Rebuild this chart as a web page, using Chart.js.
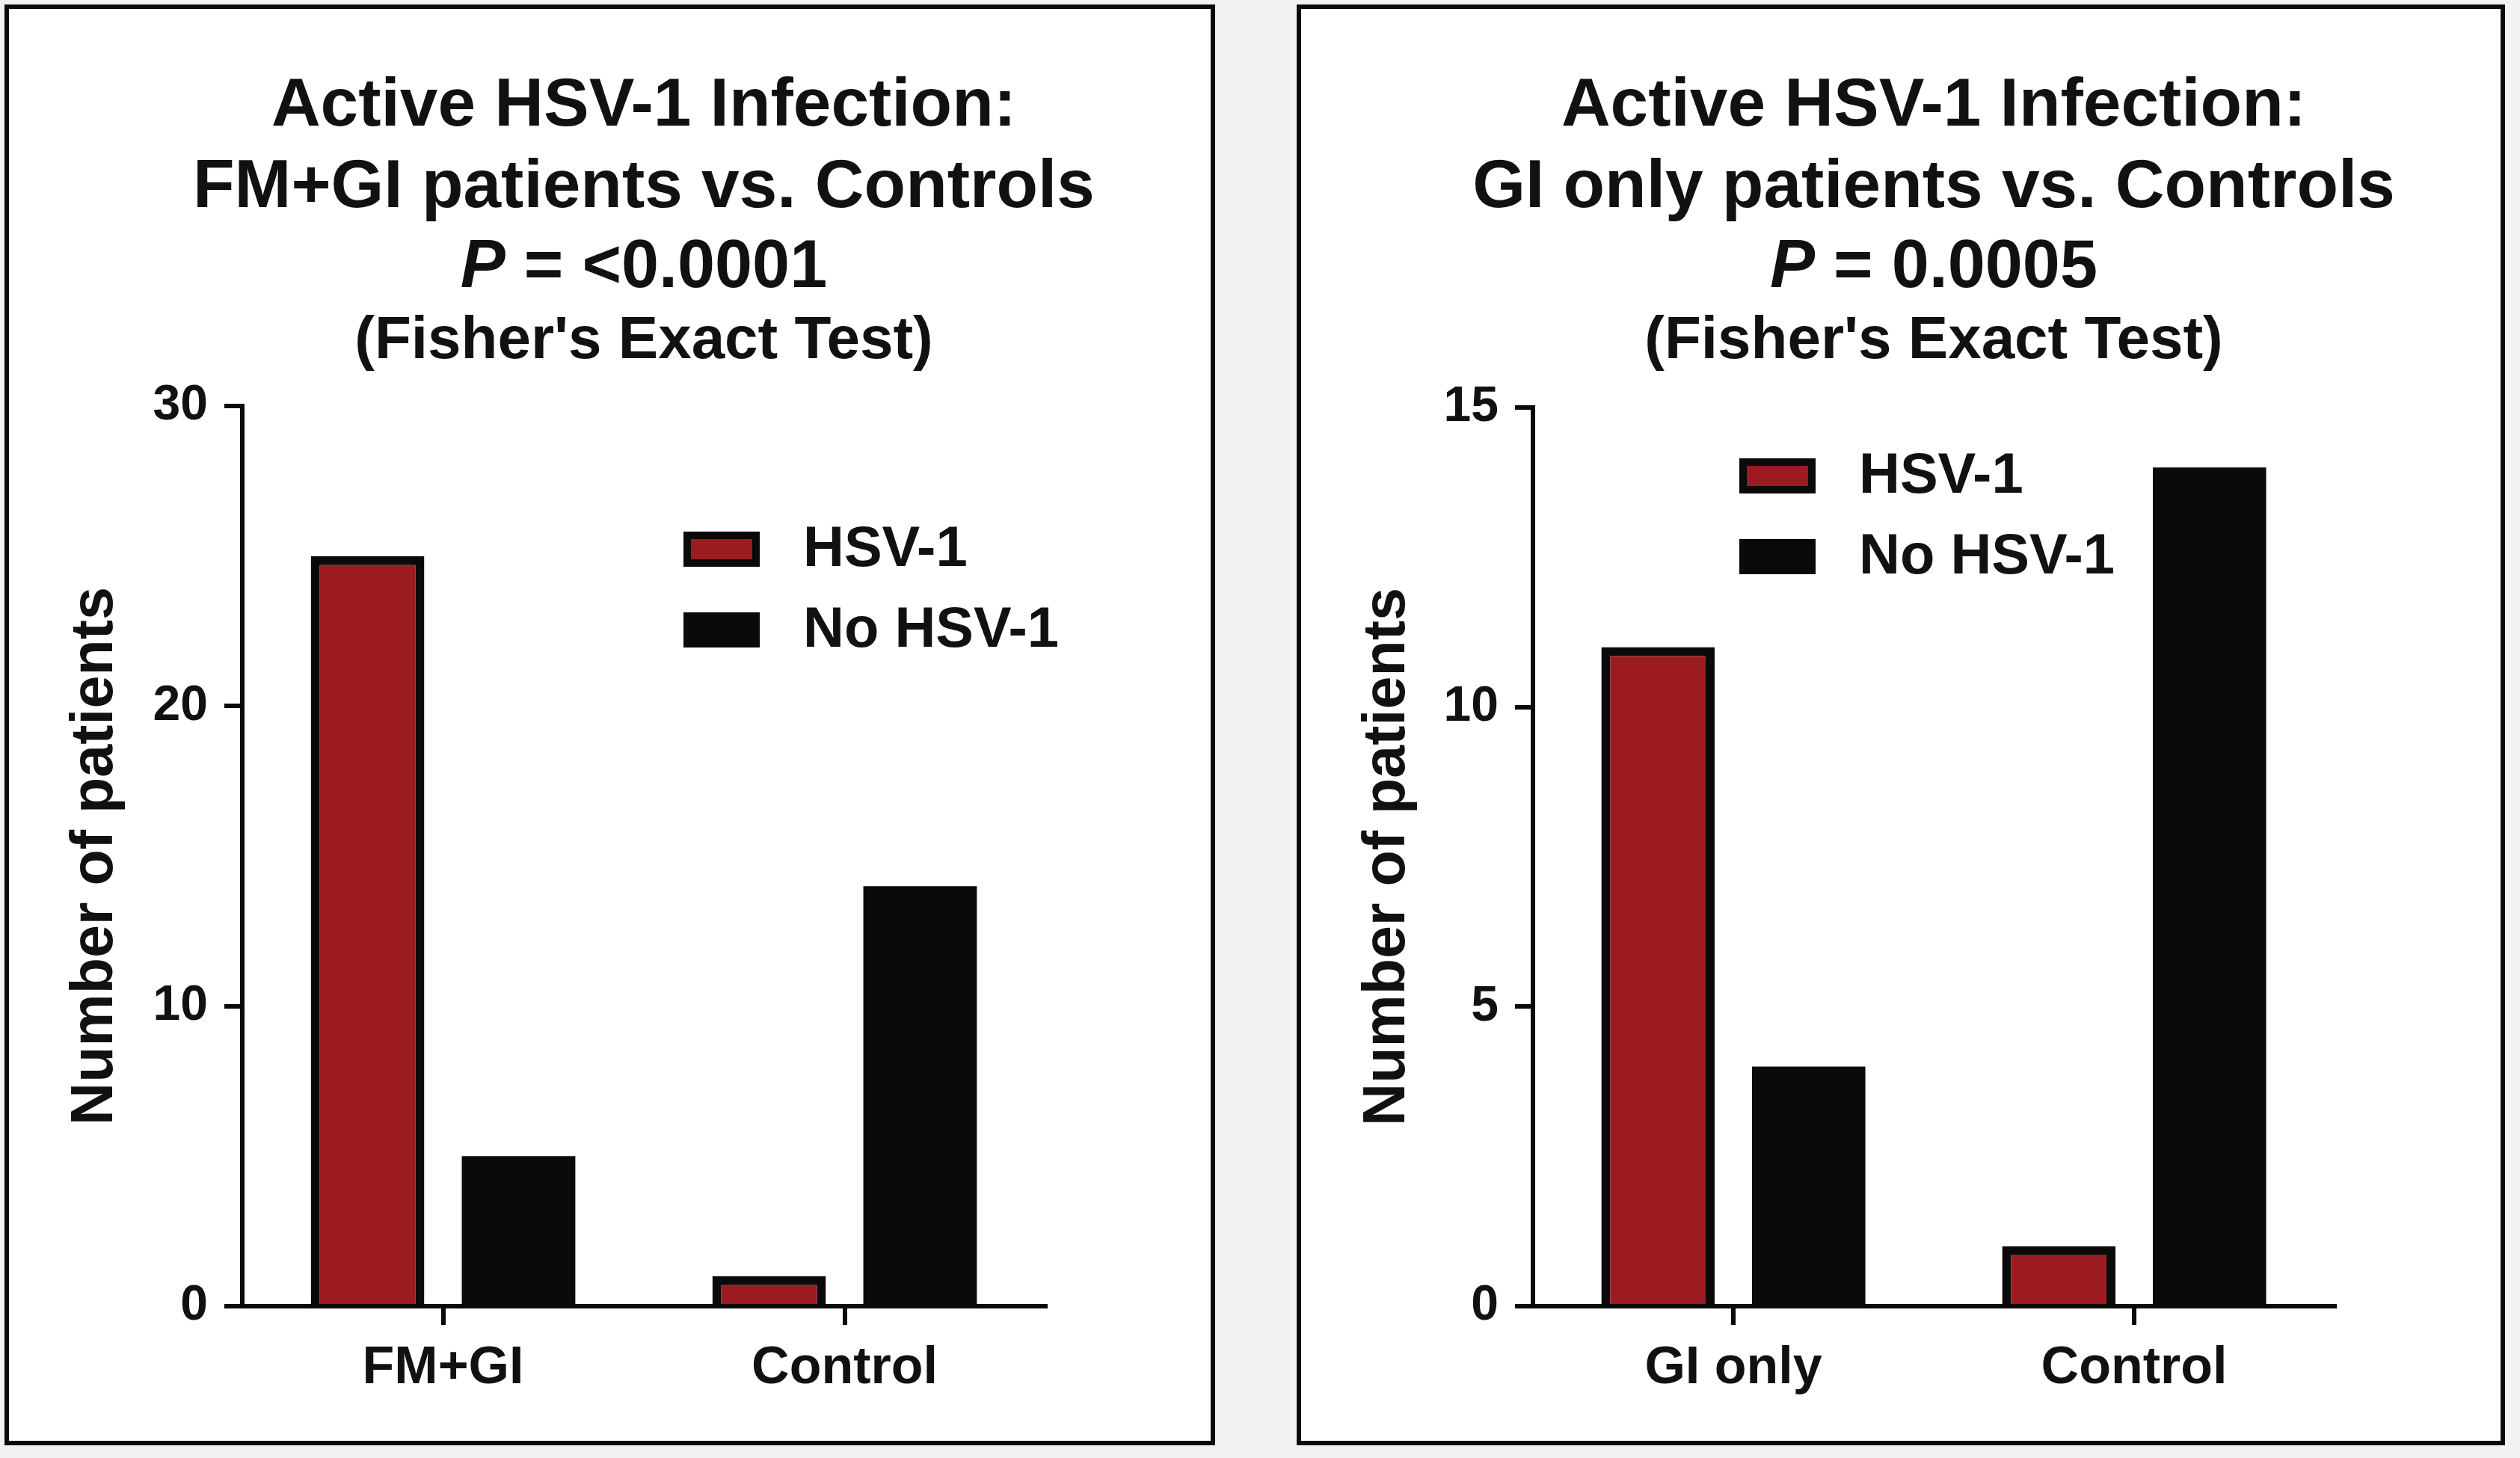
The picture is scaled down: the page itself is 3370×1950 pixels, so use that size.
<!DOCTYPE html>
<html>
<head>
<meta charset="utf-8">
<script src="https://cdn.jsdelivr.net/npm/chart.js@4.4.0/dist/chart.umd.min.js"></script>
<style>
    body {
        margin: 0;
        width: 3370px;
        height: 1950px;
        background: #f1f2f4;
        position: relative;
        overflow: hidden;
        font-family: "Liberation Sans", Arial, sans-serif;
        color: #111;
    }
    .panel {
        position: absolute;
        top: 6px;
        height: 1915px;
        background: #fff;
        border: 6px solid #0a0a0a;
    }
    .title-line {
        position: absolute;
        width: 1600px;
        text-align: center;
        font-weight: bold;
        white-space: nowrap;
    }
    canvas {
        position: absolute;
    }
</style>
</head>
<body>
<div class="panel" style="left:6px; width:1607px;"></div>
<div class="panel" style="left:1734px; width:1604px;"></div>

<!-- Left titles (centred over the plot area, centre x = 861) -->
<div class="title-line" style="left:61px; top:91px; font-size:91px; line-height:91px;">Active HSV-1 Infection:</div>
<div class="title-line" style="left:61px; top:200px; font-size:91px; line-height:91px;">FM+GI patients vs. Controls</div>
<div class="title-line" style="left:61px; top:308px; font-size:90px; line-height:90px;"><i>P</i> = &lt;0.0001</div>
<div class="title-line" style="left:61px; top:412px; font-size:80px; line-height:80px;">(Fisher's Exact Test)</div>

<!-- Right titles (centre x = 2586) -->
<div class="title-line" style="left:1786px; top:91px; font-size:91px; line-height:91px;">Active HSV-1 Infection:</div>
<div class="title-line" style="left:1786px; top:200px; font-size:91px; line-height:91px;">GI only patients vs. Controls</div>
<div class="title-line" style="left:1786px; top:308px; font-size:90px; line-height:90px;"><i>P</i> = 0.0005</div>
<div class="title-line" style="left:1786px; top:412px; font-size:80px; line-height:80px;">(Fisher's Exact Test)</div>

<canvas id="leftChart" width="1580" height="1440" style="left:20px; top:480px;"></canvas>
<canvas id="rightChart" width="1590" height="1440" style="left:1745px; top:480px;"></canvas>

<script>
// Data
const seriesLabels = ['HSV-1', 'No HSV-1'];

const leftCategories = ['FM+GI', 'Control'];
const leftHsv = [25, 1];
const leftNoHsv = [5, 14];
const leftYMax = 30;
const leftYStep = 10;

const rightCategories = ['GI only', 'Control'];
const rightHsv = [11, 1];
const rightNoHsv = [4, 14];
const rightYMax = 15;
const rightYStep = 5;

const FONT = '"Liberation Sans", Arial, sans-serif';
const INK = '#0a0a0a';
const RED = '#9c1b20';

// Simple boxed legend drawn inside the plot area
const boxLegend = {
    id: 'boxLegend',
    afterDraw(chart, args, opts) {
        const ctx = chart.ctx;
        const area = chart.chartArea;
        ctx.save();
        ctx.font = 'bold ' + opts.fontSize + 'px ' + FONT;
        ctx.textBaseline = 'middle';
        ctx.textAlign = 'left';
        chart.data.datasets.forEach((ds, i) => {
            const x = area.left + opts.x;
            const y = area.top + opts.y + i * opts.rowHeight;
            const b = opts.border;
            ctx.fillStyle = INK;
            ctx.fillRect(x, y, opts.boxWidth, opts.boxHeight);
            ctx.fillStyle = ds.backgroundColor;
            ctx.fillRect(x + b, y + b, opts.boxWidth - 2 * b, opts.boxHeight - 2 * b);
            ctx.fillStyle = '#111';
            ctx.fillText(ds.label, x + opts.boxWidth + opts.gap, y + opts.boxHeight / 2 + 2);
        });
        ctx.restore();
    }
};

function makeChart(id, categories, hsv, noHsv, yMax, yStep, cfg) {
    const ctx = document.getElementById(id).getContext('2d');
    return new Chart(ctx, {
        type: 'bar',
        data: {
            labels: categories,
            datasets: [{
                label: seriesLabels[0],
                data: hsv,
                backgroundColor: RED,
                borderColor: INK,
                borderWidth: 12
            }, {
                label: seriesLabels[1],
                data: noHsv,
                backgroundColor: INK,
                borderWidth: 0
            }]
        },
        options: {
            responsive: false,
            animation: false,
            layout: {
                padding: { left: 0, top: cfg.padTop, right: cfg.padRight, bottom: 23 }
            },
            datasets: {
                bar: {
                    barPercentage: 0.752,
                    categoryPercentage: 0.752
                }
            },
            plugins: {
                legend: { display: false },
                tooltip: { enabled: false },
                boxLegend: {
                    x: cfg.legendX,
                    y: cfg.legendY,
                    rowHeight: 108,
                    boxWidth: 102,
                    boxHeight: 47,
                    border: 10,
                    gap: 58,
                    fontSize: 76
                }
            },
            scales: {
                x: {
                    grid: {
                        display: true,
                        drawOnChartArea: false,
                        offset: false,
                        tickLength: 25,
                        lineWidth: 6,
                        color: INK
                    },
                    border: { display: true, width: 6, color: INK },
                    ticks: {
                        color: '#111',
                        padding: 17,
                        font: { family: FONT, size: 70, weight: 'bold' }
                    },
                    afterFit(scale) { scale.height = 150; }
                },
                y: {
                    min: 0,
                    max: yMax,
                    grid: {
                        drawOnChartArea: false,
                        tickLength: 24,
                        lineWidth: 6,
                        color: INK
                    },
                    border: { display: true, width: 6, color: INK },
                    ticks: {
                        stepSize: yStep,
                        color: '#111',
                        padding: 22,
                        font: { family: FONT, size: 66, weight: 'bold' }
                    },
                    title: {
                        display: true,
                        text: 'Number of patients',
                        color: '#111',
                        font: { family: FONT, size: 79, weight: 'bold' },
                        padding: { top: cfg.titlePad, bottom: 0 }
                    },
                    afterFit(scale) { scale.width = cfg.yWidth; }
                }
            }
        },
        plugins: [boxLegend]
    });
}

// Left panel: FM+GI vs Controls
makeChart('leftChart', leftCategories, leftHsv, leftNoHsv, leftYMax, leftYStep, {
    padTop: 63, padRight: 202, yWidth: 304, titlePad: 61, legendX: 590, legendY: 168
});

// Right panel: GI only vs Controls
makeChart('rightChart', rightCategories, rightHsv, rightNoHsv, rightYMax, rightYStep, {
    padTop: 65, padRight: 213, yWidth: 305, titlePad: 64, legendX: 276, legendY: 68
});
</script>
</body>
</html>
